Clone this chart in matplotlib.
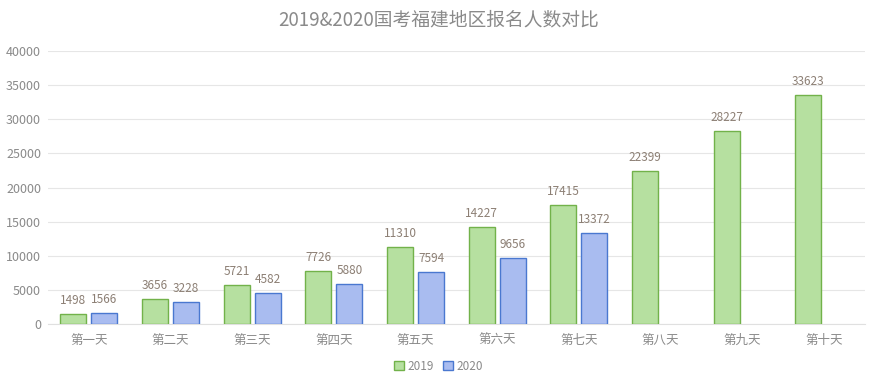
import matplotlib
matplotlib.use("Agg")
import matplotlib.pyplot as plt
import numpy as np

plt.rcParams['font.family'] = ['Noto Sans CJK SC', 'DejaVu Sans']

days = ['第一天', '第二天', '第三天', '第四天', '第五天',
        '第六天', '第七天', '第八天', '第九天', '第十天']
y2019 = [1498, 3656, 5721, 7726, 11310, 14227, 17415, 22399, 28227, 33623]
y2020 = [1566, 3228, 4582, 5880, 7594, 9656, 13372]

fig = plt.figure(figsize=(8.77, 3.87), dpi=100)
ax = fig.add_axes([0.0547, 0.163, 0.9313, 0.705])

x = np.arange(len(days))
w = 0.32
off = 0.19
txt = '#8a8a8a'

b1 = ax.bar(x - off, y2019, w, color='#b6e0a0', edgecolor='#72b24a', linewidth=1, label='2019', zorder=3)
x2 = x[:len(y2020)]
b2 = ax.bar(x2 + off, y2020, w, color='#a9bcf0', edgecolor='#4a78d0', linewidth=1, label='2020', zorder=3)

# value labels over the bars
for xi, v in zip(x - off, y2019):
    ax.annotate(str(v), (xi, v), xytext=(0, 5), textcoords='offset points',
                ha='center', va='bottom', fontsize=8.5, color='#8c7f74')
for xi, v in zip(x2 + off, y2020):
    ax.annotate(str(v), (xi, v), xytext=(0, 5), textcoords='offset points',
                ha='center', va='bottom', fontsize=8.5, color='#8c7f74')

ax.set_xlim(-0.5, len(days) - 0.5)
ax.set_ylim(0, 40000)
ax.set_yticks(np.arange(0, 40001, 5000))
ax.set_xticks(x)
ax.set_xticklabels(days)
ax.grid(axis='y', color='#e6e6e6', linewidth=0.8, zorder=0)
for s in ['top', 'right', 'left']:
    ax.spines[s].set_visible(False)
ax.spines['bottom'].set_color('#e0e0e0')
ax.tick_params(axis='both', length=0, labelsize=9, colors=txt)
ax.tick_params(axis='x', pad=7)
ax.tick_params(axis='y', pad=5)

fig.suptitle('2019&2020国考福建地区报名人数对比', y=0.975, fontsize=13.5, color='#8a8a8a')

fig.legend(handles=[b1, b2], loc='center', bbox_to_anchor=(0.5, 0.053), ncol=2,
           frameon=False, fontsize=8.5, labelcolor=txt, handlelength=0.8,
           handleheight=0.8, handletextpad=0.3, columnspacing=0.8)

fig.savefig('out.png', dpi=100)
